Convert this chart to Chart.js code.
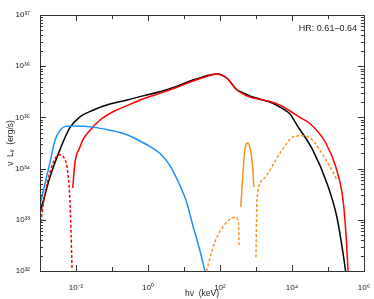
<!DOCTYPE html>
<html>
<head>
<meta charset="utf-8">
<script src="https://cdn.jsdelivr.net/npm/chart.js@4/dist/chart.umd.min.js"></script>
<style>
  html, body { margin: 0; padding: 0; background: #fff; }
  #wrap { width: 374px; height: 299px; }
</style>
</head>
<body>
<div id="wrap"><canvas id="chart"></canvas></div>
<script>
// log10(E / keV) and log10(nu L_nu / erg s^-1)
const blackLogE = [-3.0, -2.72, -2.44, -2.17, -1.89, -1.53, -1.06, -0.58, -0.14, 0.33, 0.81, 1.25, 1.72, 1.92, 2.19, 2.47, 2.64, 2.83, 3.11, 3.39, 3.67, 3.94, 4.14, 4.58, 4.97, 5.25, 5.42, 5.49];
const blackLogL = [33.13, 33.84, 34.38, 34.80, 35.01, 35.14, 35.26, 35.34, 35.42, 35.50, 35.61, 35.73, 35.83, 35.85, 35.77, 35.54, 35.48, 35.42, 35.36, 35.30, 35.20, 35.07, 34.85, 34.36, 33.72, 33.05, 32.35, 32.0];

const redLogE = [-2.09, -2.03, -1.89, -1.81, -1.61, -1.33, -0.97, -0.58, -0.14, 0.33, 0.81, 1.25, 1.72, 1.92, 2.19, 2.47, 2.64, 2.83, 3.11, 3.39, 3.67, 3.94, 4.22, 4.5, 4.94, 5.22, 5.42, 5.5, 5.56];
const redLogL = [33.62, 34.11, 34.42, 34.56, 34.75, 34.95, 35.11, 35.23, 35.36, 35.47, 35.59, 35.71, 35.82, 35.85, 35.77, 35.54, 35.46, 35.40, 35.35, 35.31, 35.24, 35.13, 35.0, 34.88, 34.5, 34.03, 33.39, 32.74, 32.0];

const redDashLogE = [-3.0, -2.89, -2.78, -2.64, -2.47, -2.33, -2.22, -2.17, -2.14, -2.11];
const redDashLogL = [32.86, 33.39, 33.78, 34.11, 34.27, 34.21, 33.88, 33.39, 32.8, 32.06];

const blueLogE = [-3.0, -2.72, -2.58, -2.44, -2.31, -2.08, -1.53, -1.06, -0.58, -0.28, 0.06, 0.33, 0.61, 0.89, 1.08, 1.25, 1.44, 1.58];
const blueLogL = [33.29, 34.13, 34.56, 34.75, 34.82, 34.83, 34.81, 34.75, 34.66, 34.56, 34.43, 34.30, 34.06, 33.67, 33.33, 32.88, 32.41, 32.0];

const orangeLogE = [2.58, 2.64, 2.69, 2.77, 2.85, 2.91, 2.94];
const orangeLogL = [33.25, 33.91, 34.36, 34.5, 34.36, 34.03, 33.64];

const orangeDash1LogE = [1.63, 1.81, 2.08, 2.42, 2.5, 2.525, 2.53];
const orangeDash1LogL = [32.0, 32.47, 32.86, 33.05, 33.0, 32.74, 32.51];

const orangeDash2LogE = [3.0, 3.03, 3.19, 3.67, 4.03, 4.22, 4.5, 4.78, 5.06, 5.25];
const orangeDash2LogL = [32.27, 33.39, 33.78, 34.30, 34.62, 34.64, 34.6, 34.36, 34.03, 33.78];

const xDecades = [-3, -2, -1, 0, 1, 2, 3, 4, 5, 6];
const xLabelled = [-2, 0, 2, 4, 6];
const yDecades = [32, 33, 34, 35, 36, 37];
const hrText = "HR: 0.61\u20130.64";

const font = "'Liberation Sans', Arial, sans-serif";
const sup = { "-": "\u207b", "0": "\u2070", "1": "\u00b9", "2": "\u00b2", "3": "\u00b3", "4": "\u2074", "5": "\u2075", "6": "\u2076", "7": "\u2077", "8": "\u2078", "9": "\u2079" };
function powLabel(e) {
  return "10" + String(e).split("").map(c => sup[c]).join("");
}
function decadeOf(v) {
  const e = Math.round(Math.log10(v));
  return Math.abs(v / Math.pow(10, e) - 1) < 1e-6 ? e : null;
}
function pts(le, ll) {
  return le.map((e, i) => ({ x: Math.pow(10, e), y: Math.pow(10, ll[i]) }));
}

function series(le, ll, color, dashed) {
  return {
    data: pts(le, ll),
    borderColor: color,
    borderWidth: 1.5,
    borderDash: dashed ? [3, 2] : [],
    showLine: true,
    pointRadius: 0,
    cubicInterpolationMode: "monotone",
    fill: false
  };
}

const frameTicks = {
  id: "frameTicks",
  afterDatasetsDraw(chart) {
    const { ctx, chartArea: a, scales: { x, y } } = chart;
    ctx.save();
    ctx.strokeStyle = "#333";
    ctx.lineWidth = 1;
    ctx.strokeRect(Math.round(a.left) + 0.5, Math.round(a.top) + 0.5,
      Math.round(a.right - a.left), Math.round(a.bottom - a.top));
    ctx.beginPath();
    x.ticks.forEach(t => {
      const e = decadeOf(t.value);
      const len = xLabelled.includes(e) ? 6 : 4;
      const px = Math.round(x.getPixelForValue(t.value)) + 0.5;
      ctx.moveTo(px, a.bottom); ctx.lineTo(px, a.bottom - len);
      ctx.moveTo(px, a.top); ctx.lineTo(px, a.top + len);
    });
    y.ticks.forEach(t => {
      const len = decadeOf(t.value) !== null ? 6 : 3;
      const py = Math.round(y.getPixelForValue(t.value)) + 0.5;
      ctx.moveTo(a.left, py); ctx.lineTo(a.left + len, py);
      ctx.moveTo(a.right, py); ctx.lineTo(a.right - len, py);
    });
    ctx.stroke();
    ctx.fillStyle = "#222";
    ctx.font = "9px " + font;
    ctx.textAlign = "right";
    ctx.textBaseline = "middle";
    ctx.fillText(hrText, a.right - 7, a.top + 14);
    ctx.restore();
  }
};

new Chart(document.getElementById("chart"), {
  type: "scatter",
  data: {
    datasets: [
      series(blueLogE, blueLogL, "#1e8ff5", false),
      series(orangeDash1LogE, orangeDash1LogL, "#f7941d", true),
      series(orangeLogE, orangeLogL, "#f7941d", false),
      series(orangeDash2LogE, orangeDash2LogL, "#f7941d", true),
      series(redDashLogE, redDashLogL, "#ff0000", true),
      series(redLogE, redLogL, "#ff0000", false),
      series(blackLogE, blackLogL, "#000000", false)
    ]
  },
  options: {
    responsive: true,
    maintainAspectRatio: false,
    animation: false,
    layout: { padding: { left: 6, right: 10, top: 15, bottom: 0 } },
    plugins: { legend: { display: false }, tooltip: { enabled: false } },
    scales: {
      x: {
        type: "logarithmic",
        min: 1e-3,
        max: 1e6,
        grid: { display: false },
        border: { display: false },
        afterBuildTicks: s => { s.ticks = xDecades.map(e => ({ value: Math.pow(10, e) })); },
        afterFit: s => { s.height = 28; },
        ticks: {
          autoSkip: false,
          maxRotation: 0,
          padding: 4,
          color: "#222",
          font: { family: font, size: 8 },
          callback: v => { const e = decadeOf(v); return xLabelled.includes(e) ? powLabel(e) : ""; }
        },
        title: { display: true, text: "h\u03bd  (keV)", color: "#222", padding: { top: 1, bottom: 0 }, font: { family: font, size: 8.5 } }
      },
      y: {
        type: "logarithmic",
        min: 1e32,
        max: 1e37,
        grid: { display: false },
        border: { display: false },
        afterBuildTicks: s => {
          const t = [];
          yDecades.forEach(e => {
            for (let m = 1; m <= 9; m++) {
              if (e === 37 && m > 1) break;
              t.push({ value: m * Math.pow(10, e) });
            }
          });
          s.ticks = t;
        },
        afterFit: s => { s.width = 34; },
        ticks: {
          autoSkip: false,
          padding: 2,
          color: "#222",
          font: { family: font, size: 8 },
          callback: v => { const e = decadeOf(v); return e !== null ? powLabel(e) : ""; }
        },
        title: { display: true, text: "\u03bd  L\u1d65  (erg/s)", color: "#222", padding: { top: 0, bottom: 2 }, font: { family: font, size: 8.5 } }
      }
    }
  },
  plugins: [frameTicks]
});
</script>
</body>
</html>
